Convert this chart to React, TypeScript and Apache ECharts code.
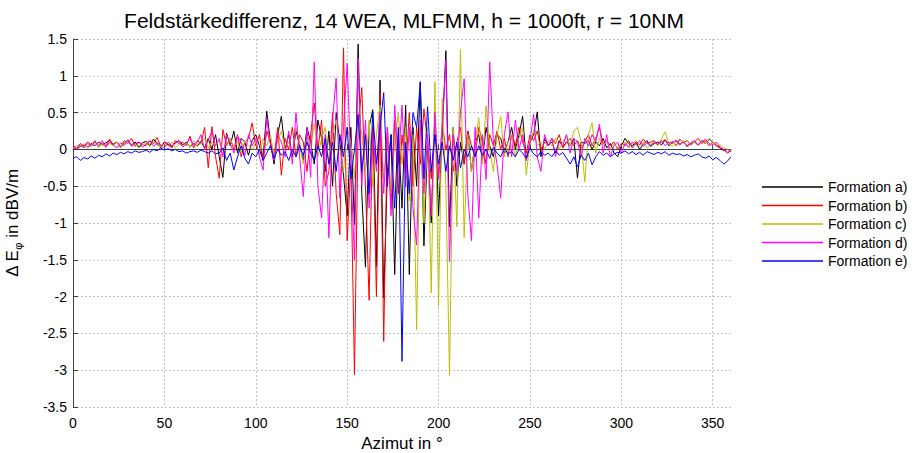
import React, { useEffect, useRef } from "react";
import * as echarts from "echarts";

const FONT = "'Liberation Sans', Arial, Helvetica, sans-serif";

// Azimuth sampling (degrees), 2° steps from 0 to 360
const AZIMUT: number[] = Array.from({ length: 181 }, (_, i) => i * 2);

const X_TICKS = [0, 50, 100, 150, 200, 250, 300, 350];
const Y_TICKS = [1.5, 1, 0.5, 0, -0.5, -1, -1.5, -2, -2.5, -3, -3.5];

const NAMES = ["Formation a)", "Formation b)", "Formation c)", "Formation d)", "Formation e)"];
const COLORS = ["#000000", "#ff0000", "#bdbd00", "#ff00ff", "#0000ff"];

// Formation a) (black)
const formationA = [
  0.02, 0.0, 0.04, 0.06, 0.03, 0.08, 0.05, 0.1, 0.06, 0.09,
  0.12, 0.07, 0.1, 0.04, 0.08, 0.13, 0.06, 0.1, 0.03, 0.09,
  0.11, 0.05, 0.14, 0.08, 0.02, 0.1, 0.07, 0.04, 0.09, 0.12,
  0.06, 0.1, 0.03, 0.08, 0.05, 0.11, 0.02, 0.15, 0.0, 0.2,
  -0.1, -0.38, 0.22, 0.05, 0.25, -0.05, 0.15, 0.1, -0.08, 0.12,
  0.2, 0.05, -0.12, 0.52, 0.1, -0.2, 0.2, 0.45, 0.0, 0.2,
  -0.1, 0.25, 0.05, -0.15, 0.3, 0.1, -0.2, 0.4, 0.15, -0.3,
  0.25, -0.5, 0.5, 0.1, -0.35, -0.9, 0.3, -1.02, 1.43, -0.6,
  -1.6, 0.3, 0.54, -1.59, 0.94, -2.02, -0.3, 0.2, -1.7, 0.2,
  -0.8, 0.6, -1.7, 0.3, -0.5, 0.92, -1.31, 0.1, -1.0, 0.5,
  -0.9, 0.2, 1.34, -1.05, 0.3, -0.5, 0.1, -0.2, 0.25, -0.3,
  0.1, 0.2, -0.15, 0.3, 0.05, -0.1, 0.2, 0.15, -0.05, 0.1,
  0.3, 0.0, 0.2, 0.45, -0.15, 0.1, 0.2, 0.51, -0.1, 0.15,
  0.05, 0.1, -0.05, 0.12, 0.03, 0.1, 0.05, 0.15, -0.39, 0.1,
  0.08, 0.12, 0.0, 0.1, 0.05, 0.15, 0.02, 0.08, -0.05, -0.1,
  0.05, 0.15, 0.08, 0.05, 0.1, 0.0, 0.07, 0.12, 0.04, 0.08,
  0.1, 0.06, 0.13, 0.05, 0.09, 0.12, 0.07, 0.1, 0.05, 0.08,
  0.1, 0.06, 0.12, 0.08, 0.14, 0.1, 0.05, 0.02, -0.02, 0.0,
  -0.03,
];

// Formation b) (red)
const formationB = [
  0.05, 0.02, 0.08, 0.04, 0.1, 0.06, 0.12, 0.03, 0.09, 0.05,
  0.14, 0.06, 0.1, 0.02, 0.12, 0.08, 0.15, 0.04, 0.1, 0.07,
  0.05, 0.12, 0.08, 0.16, 0.04, 0.1, 0.06, 0.02, 0.12, 0.08,
  0.1, 0.05, 0.18, 0.02, 0.12, 0.08, 0.3, -0.25, 0.31, -0.1,
  -0.39, 0.27, 0.05, 0.15, 0.0, 0.2, -0.1, 0.1, 0.15, 0.36,
  0.05, 0.2, -0.15, 0.25, 0.1, -0.1, 0.3, -0.35, 0.15, 0.0,
  0.3, -0.1, 0.2, 0.1, -0.3, 0.2, 0.63, 0.0, 0.4, -0.5,
  -0.3, 0.5, -0.6, -1.16, 1.38, -1.24, -0.2, -3.06, 0.3, 0.84,
  -0.5, -2.05, 0.3, -2.0, 0.77, -2.61, 0.3, -0.8, 0.4, -0.6,
  0.2, -0.3, 0.5, -0.5, 0.3, -0.2, 0.55, 0.1, -0.4, 0.35,
  -0.4, 0.35, 0.0, 0.2, -0.3, 0.1, 0.3, -0.2, 0.25, 0.05,
  -0.1, 0.3, 0.1, -0.2, 0.2, 0.05, 0.25, 0.0, 0.15, -0.1,
  0.2, 0.05, 0.3, 0.1, -0.05, 0.2, 0.12, 0.25, 0.0, 0.1,
  0.05, 0.15, 0.08, 0.2, 0.02, 0.1, 0.15, 0.05, 0.12, 0.0,
  0.1, 0.2, 0.05, 0.15, 0.3, 0.08, 0.12, 0.05, 0.1, 0.0,
  0.08, 0.05, 0.12, 0.02, 0.1, 0.06, 0.14, 0.08, 0.1, 0.12,
  0.06, 0.1, 0.13, 0.08, 0.11, 0.05, 0.14, 0.09, 0.12, 0.06,
  0.1, 0.15, 0.08, 0.12, 0.05, 0.1, 0.06, 0.02, 0.0, -0.05,
  -0.02,
];

// Formation c) (yellow)
const formationC = [
  0.0, 0.05, 0.03, 0.08, 0.02, 0.06, 0.1, 0.04, 0.07, 0.03,
  0.08, 0.05, 0.1, 0.03, 0.07, 0.12, 0.05, 0.08, 0.02, 0.06,
  0.09, 0.04, 0.1, 0.06, 0.03, 0.08, 0.05, 0.1, 0.02, 0.07,
  0.05, 0.09, 0.03, 0.12, 0.04, 0.08, 0.15, 0.02, 0.1, 0.05,
  0.12, 0.0, 0.08, 0.15, 0.03, 0.1, -0.05, 0.12, 0.05, 0.0,
  0.1, -0.08, 0.15, 0.05, 0.2, -0.1, 0.12, 0.25, 0.0, 0.1,
  -0.05, 0.3, 0.1, -0.2, 0.2, 0.05, 0.35, -0.1, 0.15, 0.3,
  -0.2, 0.2, 0.4, 0.0, -0.3, 0.3, 0.1, -0.4, 0.5, 0.2,
  -0.3, 0.4, -0.5, 0.2, 0.6, -0.4, 0.3, -0.6, 0.1, 0.5,
  -0.2, 0.3, -0.7, 0.2, -2.45, 0.4, -1.0, 0.3, -1.95, 0.92,
  -2.13, 0.69, -0.5, -3.08, 0.3, -1.05, 1.36, -1.2, 0.2, -0.3,
  0.1, 0.43, -0.2, 0.59, 0.0, -0.3, 0.2, 0.45, -0.1, 0.1,
  0.2, -0.1, 0.15, 0.3, -0.35, 0.1, 0.25, 0.05, 0.1, 0.0,
  0.12, 0.05, 0.15, 0.0, 0.1, 0.2, 0.05, 0.25, 0.3, 0.1,
  -0.44, 0.2, 0.36, -0.05, 0.15, 0.05, 0.1, 0.0, 0.08, 0.02,
  0.05, 0.1, 0.03, 0.08, 0.12, 0.05, 0.09, 0.02, 0.07, 0.1,
  0.05, 0.15, 0.24, 0.08, 0.04, 0.1, 0.06, 0.12, 0.03, 0.08,
  0.1, 0.05, 0.12, 0.08, 0.15, 0.1, 0.04, 0.06, 0.02, 0.0,
  -0.02,
];

// Formation d) (magenta)
const formationD = [
  0.03, 0.0, 0.06, 0.02, 0.08, 0.04, 0.1, 0.05, 0.12, 0.03,
  0.1, 0.06, 0.02, 0.09, 0.05, 0.12, 0.04, 0.08, 0.1, 0.03,
  0.07, 0.12, 0.04, 0.09, 0.06, 0.02, 0.1, 0.05, 0.08, 0.12,
  0.03, 0.08, 0.15, 0.05, 0.1, 0.2, 0.0, 0.12, 0.25, 0.05,
  0.15, -0.1, 0.2, 0.08, -0.05, 0.18, 0.1, -0.08, 0.2, 0.05,
  0.15, -0.1, -0.28, 0.43, 0.05, -0.15, 0.2, 0.1, -0.1, 0.25,
  -0.2, 0.5, -0.1, -0.64, 0.3, -0.38, 1.19, -0.5, -0.93, 0.2,
  -1.2, 0.4, 0.97, -0.66, 0.3, 1.17, -0.2, -1.5, 1.24, -0.5,
  0.4, -0.8, 0.2, -0.3, 0.5, -0.6, 0.3, -0.9, 0.6, -0.2,
  0.6, -0.5, 0.3, -0.8, -1.3, 0.4, -0.6, 0.2, -0.9, 0.5,
  -0.4, 0.3, 1.21, -1.53, 0.2, -0.3, 0.51, 0.96, -0.62, -1.24,
  0.3, -0.93, 0.2, -0.41, 1.19, 0.1, -0.2, -0.66, 0.2, 0.51,
  -0.1, 0.4, 0.0, 0.2, -0.15, 0.1, 0.48, -0.1, -0.3, 0.2,
  0.05, 0.15, -0.1, 0.1, 0.05, 0.2, -0.05, 0.15, 0.1, -0.1,
  0.15, 0.05, 0.2, 0.1, 0.34, -0.05, 0.2, -0.1, 0.05, 0.1,
  -0.05, 0.08, 0.03, 0.1, 0.06, 0.12, 0.04, 0.09, 0.05, 0.1,
  0.07, 0.12, 0.05, 0.1, 0.08, 0.13, 0.06, 0.1, 0.04, 0.09,
  0.12, 0.06, 0.1, 0.14, 0.08, 0.05, 0.1, 0.03, 0.0, -0.04,
  -0.02,
];

// Formation e) (blue)
const formationE = [
  -0.12, -0.1, -0.15, -0.11, -0.13, -0.09, -0.12, -0.08, -0.1, -0.06,
  -0.09, -0.05, -0.07, -0.04, -0.06, -0.03, -0.05, -0.02, -0.04, -0.03,
  -0.01, -0.04, 0.0, -0.02, 0.02, -0.01, 0.01, -0.02, 0.0, -0.03,
  -0.02, -0.05, -0.03, -0.02, -0.04, -0.01, -0.03, -0.05, -0.02, -0.06,
  -0.05, 0.02, -0.15, -0.05, -0.28, -0.1, 0.05, -0.12, -0.2, -0.05,
  -0.1, 0.0, -0.15, -0.05, 0.05, -0.12, 0.0, -0.08, -0.03, -0.15,
  0.0, -0.1, 0.05, -0.08, 0.1, -0.05, -0.15, 0.05, -0.1, 0.15,
  -0.2, 0.1, -0.3, 0.2, -0.1, 0.3, -0.4, 0.0, 0.47, -0.3,
  0.2, -0.6, 0.5, -0.2, 0.3, 0.77, -0.5, 0.2, -0.8, 0.3,
  -2.88, 0.1, -0.6, 0.5, 0.3, 0.9, -0.4, 0.58, -0.3, 0.2,
  -0.2, 0.1, -0.3, 0.05, -0.15, 0.1, -0.25, 0.0, -0.1, 0.05,
  -0.1, 0.05, -0.08, 0.0, -0.12, 0.03, -0.05, -0.1, 0.02, -0.06,
  -0.03, -0.1, 0.0, -0.05, -0.12, 0.02, -0.06, -0.1, -0.03, -0.08,
  -0.05, -0.1, -0.02, -0.08, -0.04, -0.12, -0.2, -0.1, -0.24, -0.08,
  -0.15, -0.05, -0.21, -0.1, -0.03, -0.08, -0.05, -0.1, -0.06, -0.04,
  -0.05, -0.02, -0.06, -0.03, -0.07, -0.04, -0.08, -0.03, -0.05, -0.07,
  -0.04, -0.06, -0.03, -0.08, -0.05, -0.07, -0.06, -0.09, -0.07, -0.1,
  -0.08, -0.06, -0.1, -0.12, -0.09, -0.14, -0.11, -0.15, -0.2, -0.16,
  -0.1,
];

const SERIES_VALUES = [formationA, formationB, formationC, formationD, formationE];

export default function App() {
  const ref = useRef<HTMLDivElement>(null);

  useEffect(() => {
    if (!ref.current) return;
    const chart = echarts.init(ref.current, null, { renderer: "svg" });
    const axisColor = "#404040";
    const gridLine = { show: true, lineStyle: { type: [2, 2], color: "#c4c4c4", width: 1 } };

    chart.setOption({
      animation: false,
      backgroundColor: "#ffffff",
      textStyle: { fontFamily: FONT },
      title: {
        text: "Feldstärkedifferenz, 14 WEA, MLFMM, h = 1000ft, r = 10NM",
        left: 399,
        textAlign: "center",
        top: 5,
        textStyle: { fontSize: 21, fontWeight: "normal", color: "#000", fontFamily: FONT },
      },
      legend: {
        orient: "vertical",
        left: 757,
        top: 175,
        itemWidth: 61,
        itemHeight: 1.5,
        itemGap: 4.5,
        icon: "rect",
        data: NAMES,
        textStyle: { fontSize: 14, color: "#000", fontFamily: FONT },
      },
      grid: { left: 73, right: 186, top: 39, bottom: 46, containLabel: false, outerBoundsMode: "none" },
      xAxis: {
        type: "value",
        min: 0,
        max: 360,
        interval: 50,
        name: "Azimut in °",
        nameLocation: "middle",
        nameGap: 24,
        nameTextStyle: { fontSize: 17, color: "#000", fontFamily: FONT },
        axisLine: { show: true, lineStyle: { color: axisColor, width: 1 } },
        axisTick: { show: true, inside: true, length: 5, lineStyle: { color: axisColor } },
        axisLabel: {
          fontSize: 14,
          color: "#000",
          margin: 9,
          showMaxLabel: false,
          fontFamily: FONT,
          formatter: (v: number) => (X_TICKS.includes(v) ? String(v) : ""),
        },
        splitLine: { ...gridLine, showMaxLine: false },
      },
      yAxis: {
        type: "value",
        min: -3.5,
        max: 1.5,
        interval: 0.5,
        name: "Δ E{sub|φ} in dBV/m",
        nameLocation: "middle",
        nameGap: 50,
        nameTextStyle: {
          fontSize: 17,
          color: "#000",
          fontFamily: FONT,
          rich: {
            sub: { fontSize: 11, color: "#000", fontFamily: FONT, padding: [10, 0, 0, 0] },
          },
        },
        axisLine: { show: true, lineStyle: { color: axisColor, width: 1 } },
        axisTick: { show: true, inside: true, length: 5, lineStyle: { color: axisColor } },
        axisLabel: {
          fontSize: 14,
          color: "#000",
          margin: 6,
          fontFamily: FONT,
          formatter: (v: number) => (Y_TICKS.includes(v) ? String(v) : ""),
        },
        splitLine: gridLine,
      },
      series: SERIES_VALUES.map((vals, k) => ({
        name: NAMES[k],
        type: "line",
        showSymbol: false,
        symbol: "none",
        color: COLORS[k],
        lineStyle: { width: 1, color: COLORS[k] },
        data: AZIMUT.map((az, i) => [az, vals[i]]),
      })),
    });
    return () => chart.dispose();
  }, []);

  return (
    <div
      ref={ref}
      style={{ position: "fixed", left: 0, top: 0, width: 917, height: 453, background: "#fff" }}
    />
  );
}
